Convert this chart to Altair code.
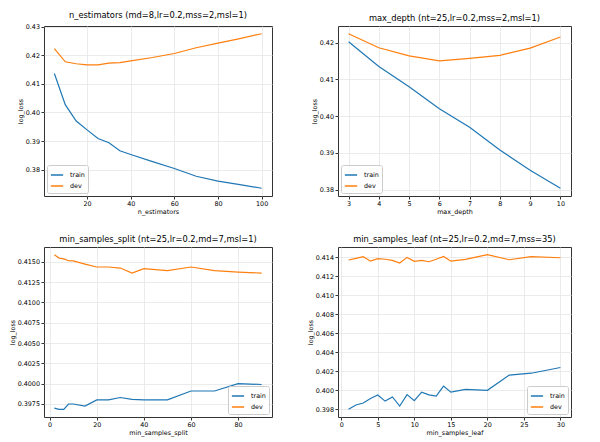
import altair as alt
import pandas as pd

# n_estimators panel
ne_x = [5, 10, 15, 20, 25, 30, 35, 40, 50, 60, 70, 80, 90, 100]
ne_train = [0.4136, 0.4027, 0.3970, 0.3939, 0.3909, 0.3894, 0.3866, 0.3853, 0.3828, 0.3804, 0.3777, 0.3760, 0.3748, 0.3735]
ne_dev = [0.4223, 0.4177, 0.4170, 0.4166, 0.4166, 0.4172, 0.4174, 0.4180, 0.4192, 0.4206, 0.4226, 0.4242, 0.4258, 0.4275]

# max_depth panel
md_x = [3, 4, 5, 6, 7, 8, 9, 10]
md_train = [0.4202, 0.4135, 0.4080, 0.4020, 0.3970, 0.3908, 0.3853, 0.3804]
md_dev = [0.4224, 0.4186, 0.4164, 0.4150, 0.4157, 0.4165, 0.4185, 0.4215]

# min_samples_split panel
mss_x = [2, 4, 6, 8, 10, 15, 20, 25, 30, 35, 40, 50, 60, 70, 80, 90]
mss_train = [0.3970, 0.39685, 0.39685, 0.3975, 0.3975, 0.39725, 0.3980, 0.3980, 0.3983, 0.39807, 0.3980, 0.3980, 0.3991, 0.3991, 0.4000, 0.3999]
mss_dev = [0.41586, 0.41545, 0.41535, 0.41512, 0.4151, 0.41471, 0.41435, 0.41435, 0.41422, 0.4136, 0.41414, 0.4139, 0.41435, 0.4139, 0.41373, 0.4136]

# min_samples_leaf panel
msl_x = [1, 2, 3, 4, 5, 6, 7, 8, 9, 10, 11, 12, 13, 14, 15, 17, 20, 23, 26, 30]
msl_train = [0.3980, 0.39845, 0.39866, 0.39914, 0.3995, 0.39886, 0.3993, 0.39834, 0.39955, 0.3989, 0.3998, 0.39952, 0.39938, 0.40045, 0.3998, 0.4001, 0.4000, 0.4016, 0.4018, 0.4024]
msl_dev = [0.41372, 0.4139, 0.41407, 0.4136, 0.41386, 0.4138, 0.41368, 0.4134, 0.4140, 0.41358, 0.41368, 0.41354, 0.4138, 0.4141, 0.4136, 0.41379, 0.41428, 0.41375, 0.41407, 0.41396]

series = ["train", "dev"]
colors = ["#1f77b4", "#ff7f0e"]


def panel(title, xs, tr, dv, xlabel, xdom, ydom, xticks, yticks, yfmt, lorient, w):
    df = pd.DataFrame({
        "x": list(xs) + list(xs),
        "v": list(tr) + list(dv),
        "s": ["train"] * len(xs) + ["dev"] * len(xs),
    })
    return alt.Chart(df, title=title).mark_line(strokeWidth=1.2, clip=True).encode(
        x=alt.X("x:Q", scale=alt.Scale(domain=xdom, nice=False, zero=False),
                axis=alt.Axis(title=xlabel, values=xticks, format="d")),
        y=alt.Y("v:Q", scale=alt.Scale(domain=ydom, nice=False, zero=False),
                axis=alt.Axis(title="log_loss", values=yticks, format=yfmt)),
        color=alt.Color("s:N", scale=alt.Scale(domain=series, range=colors),
                        legend=alt.Legend(title=None, orient=lorient)),
    ).properties(width=w, height=170)


p1 = panel("n_estimators (md=8,lr=0.2,mss=2,msl=1)", ne_x, ne_train, ne_dev, "n_estimators",
           [0.25, 104.75], [0.3708, 0.4302], [20, 40, 60, 80, 100],
           [0.38, 0.39, 0.40, 0.41, 0.42, 0.43], ".2f", "bottom-left", 228)
p2 = panel("max_depth (nt=25,lr=0.2,mss=2,msl=1)", md_x, md_train, md_dev, "max_depth",
           [2.65, 10.35], [0.3783, 0.4245], [3, 4, 5, 6, 7, 8, 9, 10],
           [0.38, 0.39, 0.40, 0.41, 0.42], ".2f", "bottom-left", 233)
p3 = panel("min_samples_split (nt=25,lr=0.2,md=7,msl=1)", mss_x, mss_train, mss_dev, "min_samples_split",
           [-2.4, 94.4], [0.3959, 0.41681], [0, 20, 40, 60, 80],
           [0.3975, 0.4, 0.4025, 0.405, 0.4075, 0.41, 0.4125, 0.415], ".4f", "bottom-right", 228)
p4 = panel("min_samples_leaf (nt=25,lr=0.2,md=7,mss=35)", msl_x, msl_train, msl_dev, "min_samples_leaf",
           [-0.45, 31.45], [0.39719, 0.41509], [0, 5, 10, 15, 20, 25, 30],
           [0.398, 0.4, 0.402, 0.404, 0.406, 0.408, 0.41, 0.412, 0.414], ".3f", "bottom-right", 233)

chart = alt.concat(p1, p2, p3, p4, columns=2, spacing={"row": 51, "column": 66}).properties(
    bounds="flush",
    padding={"left": 0, "top": 2, "right": 5, "bottom": 0},
).resolve_legend(color="independent").configure(
    font="DejaVu Sans",
).configure_view(
    stroke="#333333", strokeWidth=1,
).configure_axis(
    labelFont="DejaVu Sans", titleFont="DejaVu Sans",
    labelFontSize=6.4, titleFontSize=6.4, titleFontWeight="normal",
    labelColor="#000000", titleColor="#000000",
    domain=False, tickColor="#333333", tickSize=3, labelPadding=1.5,
    gridColor="#e6e6e6", gridWidth=0.8, titlePadding=2,
).configure_title(
    font="DejaVu Sans", fontSize=8.3, fontWeight="normal", color="#000000", offset=4,
).configure_legend(
    labelFont="DejaVu Sans", labelFontSize=6.4, labelColor="#000000",
    symbolType="stroke", symbolSize=150, symbolStrokeWidth=1.5,
    fillColor="rgba(255,255,255,0.85)", strokeColor="#cccccc", cornerRadius=2,
    padding=3, offset=3, rowPadding=0, labelOffset=6,
)

chart.save("out.html", embed_options={"renderer": "svg", "actions": False})
